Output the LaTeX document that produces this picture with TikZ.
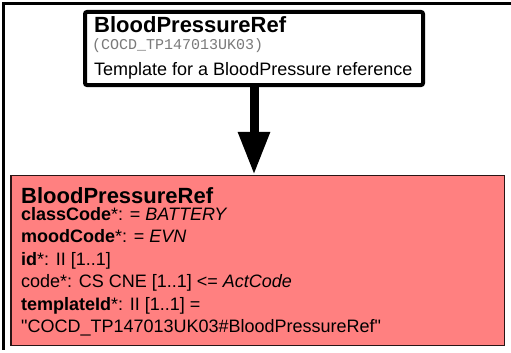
\documentclass[tikz,border=0pt]{standalone}
\usepackage{fontspec}
\setmainfont{Liberation Sans}[Ligatures=TeXOff]
\setmonofont{Liberation Mono}
\usetikzlibrary{arrows.meta}
\definecolor{clsred}{HTML}{FF8080}
\definecolor{clsedge}{HTML}{2A1515}
\definecolor{idgray}{HTML}{7A7A7A}
\tikzset{
  tmplbox/.style={
    draw=black,
    line width=4pt,
    rounded corners=2pt,
    fill=white,
    minimum width=338pt,
    minimum height=73pt,
    inner sep=0pt
  },
  clsbox/.style={
    draw=clsedge,
    line width=1.5pt,
    fill=clsred,
    minimum width=493.5pt,
    minimum height=170pt,
    inner sep=0pt
  },
  title/.style={anchor=base west,inner sep=0pt,font=\fontsize{22}{26}\selectfont\bfseries},
  attr/.style={anchor=base west,inner sep=0pt,font=\fontsize{18}{22}\selectfont},
  tmplid/.style={anchor=base west,inner sep=0pt,text=idgray,font=\fontsize{15}{18}\selectfont\ttfamily},
  link/.style={line width=9pt,-{Triangle[width=30pt,length=43pt]}},
  frame/.style={line width=3pt}
}

\begin{document}
\begin{tikzpicture}[x=1pt,y=-1pt]
  \useasboundingbox (0,0) rectangle (511,353);
  \draw[frame] (511,3.5) -| (3.5,350);

  \node[tmplbox] (tmpl) at (254,48.5) {};
  \node[clsbox] (cls) at (257.5,260.5) {};

  \node[title] (tmplname) at (94,33) {BloodPressureRef};
  \node[tmplid] (tmplcode) at (92,49) {(COCD\_TP147013UK03)};
  \node[attr] (tmpldesc) at (94,75) {Template for a BloodPressure reference};

  \node[title] (clsname) at (21,203) {BloodPressureRef};
  \node[attr] (classcode) at (21,220) {\textbf{classCode}*: = \textit{BATTERY}};
  \node[attr] (moodcode) at (21,242.5) {\textbf{moodCode}*: = \textit{EVN}};
  \node[attr] (idattr) at (21,265) {\textbf{id}*: II [1..1]};
  \node[attr] (codeattr) at (21,287.5) {code*: CS CNE [1..1] <= \textit{ActCode}};
  \node[attr] (tmplid) at (21,310) {\textbf{templateId}*: II [1..1] =};
  \node[attr] (tmplval) at (21,332.5) {"COCD\_TP147013UK03\#BloodPressureRef"};

  \draw[link] (tmpl.south) -- (tmpl.south |- cls.north);
\end{tikzpicture}
\end{document}
